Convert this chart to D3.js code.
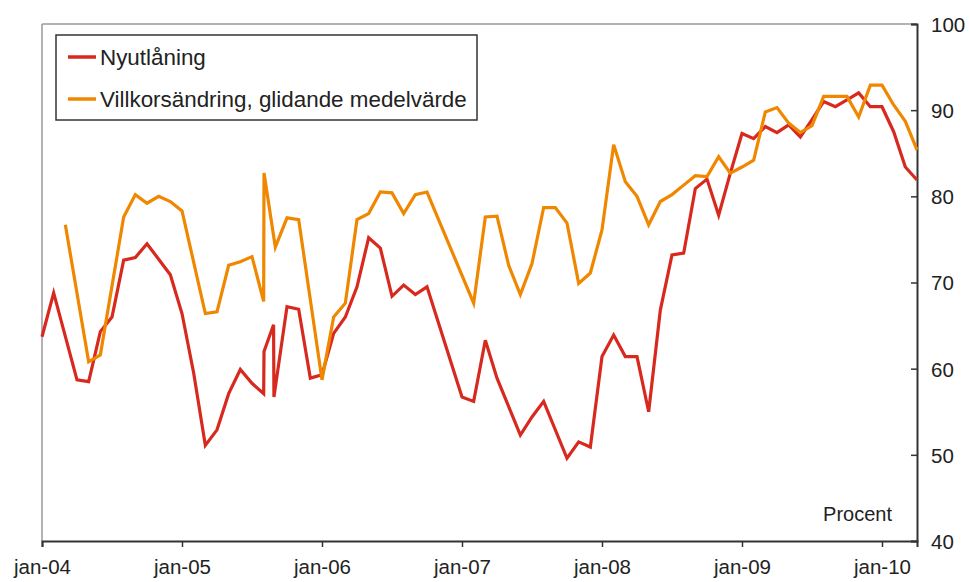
<!DOCTYPE html>
<html>
<head>
<meta charset="utf-8">
<script src="https://cdn.jsdelivr.net/npm/d3@7"></script>
<style>
  body { margin: 0; background: #fff; }
  text { font-family: "Liberation Sans", Arial, sans-serif; fill: #222; }
</style>
</head>
<body>
<svg class="chart" width="970" height="582"></svg>
<script>
// months counted from jan-04 (0 = jan-04)
var monthsRed = [0, 1, 3, 4, 5, 6, 7, 8, 9, 10, 11, 12, 13, 14, 15, 16, 17, 18, 19, 19.03, 19.85, 19.88, 21, 22, 23, 24,
  25, 26, 27, 28, 29, 30, 31, 32, 33, 36, 37, 38, 39, 41, 42, 43, 45, 46, 47, 48, 49, 50, 51, 52, 53, 54, 55,
  56, 57, 58, 59, 60, 61, 62, 63, 64, 65, 66, 67, 68, 69, 70, 71, 72, 73, 74, 75];
var valuesRed = [63.7, 68.8, 58.7, 58.5, 64.3, 66.0, 72.6, 72.9, 74.5, 72.7, 70.9, 66.4, 59.5, 51.1, 52.9, 57.1, 59.9, 58.3, 57.1, 62.0, 65.1, 56.7, 67.2, 66.9, 58.9, 59.3,
  64.1, 66.0, 69.5, 75.2, 74.0, 68.4, 69.7, 68.6, 69.5, 56.7, 56.2, 63.3, 58.9, 52.3, 54.4, 56.2, 49.6, 51.5, 50.9, 61.4, 63.9, 61.4, 61.4, 55.0, 66.8, 73.2, 73.4,
  80.9, 82.0, 77.8, 82.7, 87.3, 86.7, 88.1, 87.4, 88.3, 86.9, 88.9, 91.0, 90.4, 91.2, 92.0, 90.4, 90.4, 87.5, 83.4, 81.9];

var monthsOrange = [2, 4, 5, 7, 8, 9, 10, 11, 12, 14, 15, 16, 17, 18, 19, 19.03, 20, 21, 22, 24, 25, 26, 27, 28, 29, 30,
  31, 32, 33, 37, 38, 39, 40, 41, 42, 43, 44, 45, 46, 47, 48, 49, 50, 51, 52, 53, 54, 55, 56, 57, 58, 59, 60, 61,
  62, 63, 64, 65, 66, 67, 68, 69, 70, 71, 72, 73, 74, 75];
var valuesOrange = [76.7, 60.8, 61.6, 77.6, 80.2, 79.2, 80.0, 79.4, 78.3, 66.4, 66.6, 72.0, 72.4, 73.0, 67.8, 82.7, 74.1, 77.5, 77.3, 58.7, 66.0, 67.6, 77.3, 78.0, 80.5, 80.4,
  78.0, 80.2, 80.5, 67.6, 77.6, 77.7, 72.0, 68.6, 72.2, 78.7, 78.7, 76.9, 69.9, 71.1, 76.1, 86.0, 81.7, 80.0, 76.7, 79.4, 80.2, 81.3, 82.4, 82.3, 84.6, 82.7, 83.4, 84.2,
  89.8, 90.3, 88.5, 87.4, 88.2, 91.6, 91.6, 91.6, 89.2, 92.9, 92.9, 90.6, 88.7, 85.4];

var xTickMonths = [0, 12, 24, 36, 48, 60, 72];
var xTickLabels = ['jan-04', 'jan-05', 'jan-06', 'jan-07', 'jan-08', 'jan-09', 'jan-10'];
var yTicks = [40, 50, 60, 70, 80, 90, 100];
var seriesNames = ['Nyutlåning', 'Villkorsändring, glidande medelvärde'];
var seriesColors = ['#d8291f', '#ef8700'];

var svg = d3.select('svg.chart');
var plot = {l: 42, r: 917, t: 24, b: 541};

var xScale = d3.scaleLinear().domain([0, 75]).range([plot.l, plot.r]);
var yScale = d3.scaleLinear().domain([40, 100]).range([plot.b, plot.t]);

// frame: thin grey on left and top
svg.append('line')
  .attr('x1', plot.l).attr('x2', plot.l).attr('y1', plot.t).attr('y2', plot.b)
  .attr('stroke', '#9a9a9a').attr('stroke-width', 1.5);
svg.append('line')
  .attr('x1', plot.l).attr('x2', plot.r).attr('y1', plot.t).attr('y2', plot.t)
  .attr('stroke', '#9a9a9a').attr('stroke-width', 1.5);

// bottom axis
var xAxisG = svg.append('g')
  .attr('transform', 'translate(0,' + plot.b + ')')
  .call(d3.axisBottom(xScale)
    .tickValues(xTickMonths)
    .tickFormat(function(d, i) { return xTickLabels[i]; })
    .tickSizeOuter(0)
    .tickSize(6)
    .tickPadding(12));

// right axis, ticks pointing inwards
var yAxisG = svg.append('g')
  .attr('transform', 'translate(' + plot.r + ',0)')
  .call(d3.axisRight(yScale)
    .tickValues(yTicks)
    .tickSizeOuter(0)
    .tickSize(-6)
    .tickPadding(14));

[xAxisG, yAxisG].forEach(function(g) {
  g.select('.domain').attr('stroke', '#333').attr('stroke-width', 2);
  g.selectAll('.tick line').attr('stroke', '#333').attr('stroke-width', 1.5);
  g.selectAll('.tick text')
    .attr('fill', '#222')
    .style('font-size', '20.5px')
    .style('font-family', '"Liberation Sans", Arial, sans-serif');
});
yAxisG.selectAll('.tick text').attr('dy', '0.36em');

// lines
var lineGen = d3.line()
  .x(function(d) { return xScale(d[0]); })
  .y(function(d) { return yScale(d[1]); });

var redData = monthsRed.map(function(m, i) { return [m, valuesRed[i]]; });
var orangeData = monthsOrange.map(function(m, i) { return [m, valuesOrange[i]]; });

svg.append('path')
  .datum(redData)
  .attr('d', lineGen)
  .attr('fill', 'none')
  .attr('stroke', seriesColors[0])
  .attr('stroke-width', 3.2);

svg.append('path')
  .datum(orangeData)
  .attr('d', lineGen)
  .attr('fill', 'none')
  .attr('stroke', seriesColors[1])
  .attr('stroke-width', 3.2);

// unit label
svg.append('text')
  .attr('x', 892).attr('y', 521)
  .attr('text-anchor', 'end')
  .style('font-size', '20px')
  .text('Procent');

// legend
var legend = svg.append('g');
legend.append('rect')
  .attr('x', 56).attr('y', 35).attr('width', 421).attr('height', 85)
  .attr('fill', '#fff').attr('stroke', '#333').attr('stroke-width', 1.5);

var items = legend.selectAll('g.item')
  .data(seriesNames)
  .enter()
  .append('g')
  .attr('class', 'item')
  .attr('transform', function(d, i) { return 'translate(0,' + (57 + i * 42) + ')'; });

items.append('line')
  .attr('x1', 68).attr('x2', 96).attr('y1', 0).attr('y2', 0)
  .attr('stroke', function(d, i) { return seriesColors[i]; })
  .attr('stroke-width', 3.5);

items.append('text')
  .attr('x', 100).attr('y', 8)
  .style('font-size', '22.4px')
  .text(function(d) { return d; });
</script>
</body>
</html>
